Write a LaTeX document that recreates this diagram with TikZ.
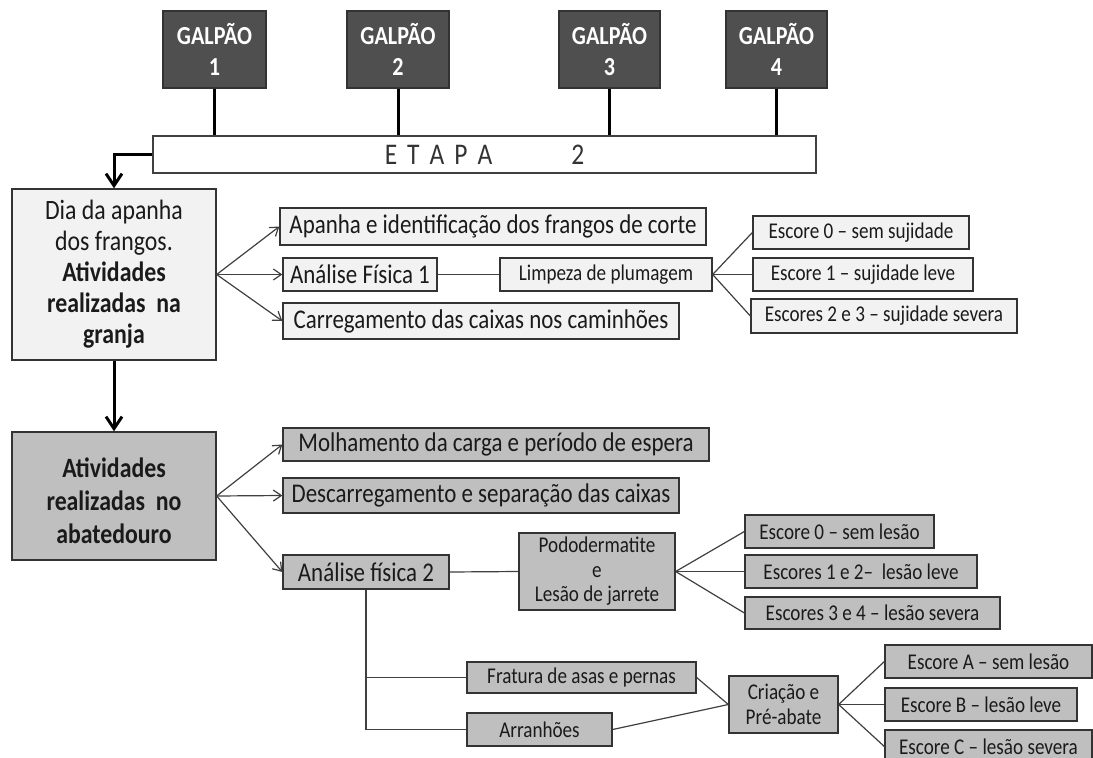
\documentclass[tikz,border=0pt]{standalone}
\usepackage{fontspec}
\setmainfont{Carlito}[FakeStretch=0.85]
\usetikzlibrary{arrows.meta}
\definecolor{gdark}{HTML}{4F4F4F}
\definecolor{glight}{HTML}{F2F2F2}
\definecolor{gmid}{HTML}{BFBFBF}
\definecolor{bord}{HTML}{333333}
\definecolor{conncol}{HTML}{404040}
\definecolor{txt}{HTML}{1A1A1A}
\newcommand\fsz[2]{\fontsize{#1}{#2}\selectfont}
\newcommand\bx[7]{\node[#1, minimum width={#5-#3}, minimum height={#6-#4}] (#2) at ({(#3+#5)/2},{(#4+#6)/2}) {#7};}
\begin{document}
\begin{tikzpicture}[x=1pt,y=-1pt,
 base/.style={draw=bord, line width=1.3pt, inner sep=0pt, text=txt, align=center},
 gal/.style={base, fill=gdark, text=white, font=\fsz{26}{31}\bfseries},
 lt/.style={base, fill=glight},
 dk/.style={base, fill=gmid},
 fbig/.style={font=\fsz{27}{27}},
 fsm/.style={font=\fsz{22.5}{24.5}},
 conn/.style={draw=conncol, line width=1.2pt},
 arrw/.style={conn, -{Straight Barb[length=8pt,width=11pt]}},
 thk/.style={draw=black, line width=3pt},
 thkarr/.style={thk, -{Straight Barb[length=12pt,width=16pt]}}]
\useasboundingbox (0,0) rectangle (1093,758);
\fill[white] (0,0) rectangle (1093,758);
% top
\bx{gal}{g1}{163}{11}{266}{88}{GALPÃO\\1}
\bx{gal}{g2}{347}{11}{449}{88}{GALPÃO\\2}
\bx{gal}{g3}{559}{11}{660}{88}{GALPÃO\\3}
\bx{gal}{g4}{726}{11}{827}{88}{GALPÃO\\4}
\bx{base, fill=white, draw=conncol, font=\fsz{30}{30}, text=bord}{bar}{153}{136}{816}{173}{E\hspace{10pt}T\hspace{10pt}A\hspace{10pt}P\hspace{10pt}A\hspace{79pt}2}
% main boxes
\bx{lt, font=\fsz{28}{31}}{dia}{12}{189}{216}{360}{Dia da apanha\\dos frangos.\\\textbf{Atividades}\\\textbf{realizadas\ \ na}\\\textbf{granja}}
\bx{dk}{aba}{12}{432}{216}{560}{}
\node[font=\fsz{28}{33}\bfseries, text=txt, align=center] (abatxt) at ([yshift=-5pt]aba.center) {Atividades\\realizadas\ \ no\\abatedouro};
% row 1
\bx{lt, fbig}{apanha}{280}{208}{706}{245}{Apanha e identificação dos frangos de corte}
\bx{lt, fbig}{af1}{283}{258}{437}{291}{Análise Física 1}
\bx{lt, fbig}{carr}{283}{303}{679}{339}{Carregamento das caixas nos caminhões}
\bx{lt, fsm}{limp}{500}{258}{712}{291}{Limpeza de plumagem}
\bx{lt, fsm}{s0}{753}{216}{969}{249}{Escore 0 – sem sujidade}
\bx{lt, fsm}{s1}{753}{258}{973}{291}{Escore 1 – sujidade leve}
\bx{lt, fsm}{s23}{751}{299}{1017}{333}{Escores 2 e 3 – sujidade severa}
% row 2
\bx{dk, fbig}{molh}{283}{428}{709}{461}{Molhamento da carga e período de espera}
\bx{dk, fbig}{desc}{283}{478}{679}{513}{Descarregamento e separação das caixas}
\bx{dk, fbig}{af2}{283}{555}{449}{589}{Análise física 2}
\bx{dk, fsm}{podo}{519}{533}{675}{610}{Pododermatite\\e\\Lesão de jarrete}
\bx{dk, fsm}{l0}{745}{515}{934}{548}{Escore 0 – sem lesão}
\bx{dk, fsm}{l12}{745}{555}{977}{588}{Escores 1 e 2–\ \ lesão leve}
\bx{dk, fsm}{l34}{745}{597}{1000}{629}{Escores 3 e 4 – lesão severa}
\bx{dk, fsm}{frat}{467}{662}{696}{693}{Fratura de asas e pernas}
\bx{dk, fsm}{arranh}{467}{713}{612}{746}{Arranhões}
\bx{dk, fsm}{cria}{729}{676}{838}{733}{Criação e\\Pré-abate}
\bx{dk, fsm}{ea}{885}{645}{1092}{678}{Escore A – sem lesão}
\bx{dk, fsm}{eb}{885}{688}{1077}{721}{Escore B – lesão leve}
\bx{dk, fsm}{ec}{885}{730}{1092}{763}{Escore C – lesão severa}
% connectors
\foreach \g in {g1,g2,g3,g4} \draw[thk] (\g.south) -- (\g.south |- bar.north);
\draw[thkarr] (bar.west) -| (dia.north);
\draw[thkarr] (dia.south) -- (aba.north);
\foreach \t in {apanha,af1,carr} \draw[arrw] (dia.east) -- (\t.west);
\draw[conn] (af1.east) -- (limp.west);
\foreach \t in {s0,s1,s23} \draw[conn] (limp.east) -- (\t.west);
\foreach \t in {molh,desc,af2} \draw[arrw] (aba.east) -- (\t.west);
\draw[conn] (af2.east) -- (podo.west);
\foreach \t in {l0,l12,l34} \draw[conn] (podo.east) -- (\t.west);
\draw[conn] (af2.south) |- (frat.west);
\draw[conn] (af2.south) |- (arranh.west);
\draw[conn] (frat.east) -- (cria.west);
\draw[conn] (arranh.east) -- (cria.west);
\foreach \t in {ea,eb,ec} \draw[conn] (cria.east) -- (\t.west);
\end{tikzpicture}
\end{document}
